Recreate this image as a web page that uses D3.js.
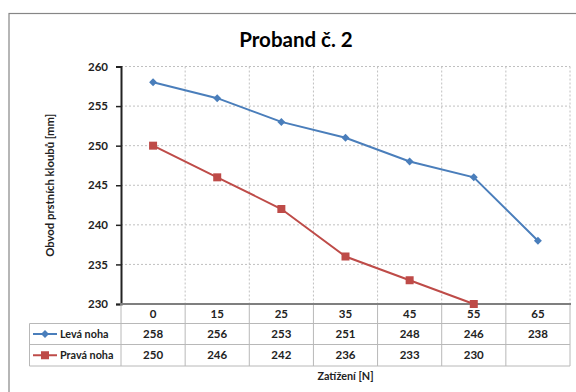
<!DOCTYPE html>
<html>
<head>
<meta charset="utf-8">
<script src="https://cdn.jsdelivr.net/npm/d3@7"></script>
<style>
  body { margin: 0; background: #fff; }
  svg { display: block; font-family: Lato, "Open Sans", sans-serif; }
</style>
</head>
<body>
<div id="chart"></div>
<script>
const loads = ['0', '15', '25', '35', '45', '55', '65'];
const leftLeg = [258, 256, 253, 251, 248, 246, 238];
const rightLeg = [250, 246, 242, 236, 233, 230, null];
const seriesNames = ['Levá noha', 'Pravá noha'];
const yTicks = [230, 235, 240, 245, 250, 255, 260];

const series = [
    {name: seriesNames[0], values: leftLeg, color: '#4a7ebb', marker: 'diamond'},
    {name: seriesNames[1], values: rightLeg, color: '#be4b48', marker: 'square'}
];

const svg = d3.select('#chart').append('svg').attr('width', 576).attr('height', 392);

// outer chart frame
svg.append('rect')
    .attr('x', 9).attr('y', 13.5)
    .attr('width', 600).attr('height', 400)
    .attr('fill', '#fff')
    .attr('stroke', '#868686')
    .attr('stroke-width', 1.2);

const plot = {left: 121, right: 570, top: 66.5, bottom: 304};

const x = d3.scaleBand().domain(loads).range([plot.left, plot.right]);
const y = d3.scaleLinear().domain([230, 260]).range([plot.bottom, plot.top]);

svg.append('text')
    .attr('x', 296).attr('y', 47)
    .attr('text-anchor', 'middle')
    .attr('font-size', 20.5).attr('font-weight', 'bold')
    .attr('fill', '#000')
    .text('Proband č. 2');

// horizontal gridlines
svg.append('g')
    .selectAll('line')
    .data(yTicks.filter(t => t > 230))
    .join('line')
    .attr('x1', plot.left).attr('x2', plot.right)
    .attr('y1', d => y(d)).attr('y2', d => y(d))
    .attr('stroke', '#c0c0c0').attr('stroke-dasharray', '2,2');

// vertical gridlines at category boundaries
svg.append('g')
    .selectAll('line')
    .data(loads)
    .join('line')
    .attr('x1', d => x(d) + x.bandwidth()).attr('x2', d => x(d) + x.bandwidth())
    .attr('y1', plot.top).attr('y2', plot.bottom)
    .attr('stroke', '#c0c0c0').attr('stroke-dasharray', '2,2');

// y axis
const yAxis = svg.append('g')
    .attr('transform', `translate(${plot.left},0)`)
    .call(d3.axisLeft(y).tickValues(yTicks).tickSize(5).tickPadding(8));
yAxis.select('.domain').attr('stroke', '#222').attr('stroke-width', 2);
yAxis.selectAll('.tick line').attr('stroke', '#222').attr('stroke-width', 1.5);
yAxis.selectAll('text')
    .attr('font-size', 11.5).attr('font-weight', 'bold')
    .attr('font-family', 'Lato, sans-serif').attr('fill', '#222');

svg.append('text')
    .attr('transform', `translate(54,${(plot.top + plot.bottom) / 2}) rotate(-90)`)
    .attr('text-anchor', 'middle')
    .attr('font-size', 11.3).attr('font-weight', 'bold')
    .attr('fill', '#222')
    .text('Obvod prstních kloubů [mm]');

// data table
const rowTop = plot.bottom, rowH = [19.5, 21, 21.5];
const rowY = [rowTop, rowTop + rowH[0], rowTop + rowH[0] + rowH[1], rowTop + rowH[0] + rowH[1] + rowH[2]];
const legendLeft = 29.5;
const tbl = svg.append('g').attr('stroke', '#b8b8b8').attr('stroke-width', 1);

// horizontal table lines
tbl.append('line').attr('x1', legendLeft).attr('x2', plot.right).attr('y1', rowY[1]).attr('y2', rowY[1]);
tbl.append('line').attr('x1', legendLeft).attr('x2', plot.right).attr('y1', rowY[2]).attr('y2', rowY[2]);
tbl.append('line').attr('x1', legendLeft).attr('x2', plot.right).attr('y1', rowY[3]).attr('y2', rowY[3]);
// vertical table lines
tbl.append('line').attr('x1', legendLeft).attr('x2', legendLeft).attr('y1', rowY[1]).attr('y2', rowY[3]);
tbl.append('line').attr('x1', plot.left).attr('x2', plot.left).attr('y1', rowY[0]).attr('y2', rowY[3]);
tbl.selectAll('.col')
    .data(loads)
    .join('line')
    .attr('class', 'col')
    .attr('x1', d => x(d) + x.bandwidth()).attr('x2', d => x(d) + x.bandwidth())
    .attr('y1', rowY[0]).attr('y2', rowY[3]);

// category header labels
svg.append('g')
    .selectAll('text')
    .data(loads)
    .join('text')
    .attr('x', d => x(d) + x.bandwidth() / 2)
    .attr('y', rowY[0] + rowH[0] / 2 + 4)
    .attr('text-anchor', 'middle')
    .attr('font-size', 11.5).attr('font-weight', 'bold').attr('fill', '#222')
    .text(d => d);

// series value rows
series.forEach((s, i) => {
    const cy = rowY[i + 1] + rowH[i + 1] / 2;
    svg.append('g')
        .selectAll('text')
        .data(s.values.map((v, j) => ({v, c: loads[j]})).filter(d => d.v != null))
        .join('text')
        .attr('x', d => x(d.c) + x.bandwidth() / 2)
        .attr('y', cy + 4)
        .attr('text-anchor', 'middle')
        .attr('font-size', 11.5).attr('font-weight', 'bold').attr('fill', '#222')
        .text(d => d.v);

    // legend key
    svg.append('line')
        .attr('x1', 33).attr('x2', 57).attr('y1', cy).attr('y2', cy)
        .attr('stroke', s.color).attr('stroke-width', 2);
    drawMarker(svg, s, 45, cy);
    svg.append('text')
        .attr('x', 60).attr('y', cy + 4)
        .attr('font-size', 10.8).attr('font-weight', 'bold').attr('fill', '#222')
        .text(s.name);
});

// bottom axis line
svg.append('line')
    .attr('x1', plot.left - 1).attr('x2', plot.right + 1)
    .attr('y1', plot.bottom).attr('y2', plot.bottom)
    .attr('stroke', '#7f7f7f').attr('stroke-width', 2);

svg.append('text')
    .attr('x', (plot.left + plot.right) / 2).attr('y', 380)
    .attr('text-anchor', 'middle')
    .attr('font-size', 10.8).attr('font-weight', 'bold').attr('fill', '#222')
    .text('Zatížení [N]');

// lines and markers
const line = d3.line()
    .defined(d => d.v != null)
    .x(d => x(d.c) + x.bandwidth() / 2)
    .y(d => y(d.v));

series.forEach(s => {
    const pts = s.values.map((v, j) => ({v, c: loads[j]}));
    svg.append('path')
        .datum(pts)
        .attr('fill', 'none')
        .attr('stroke', s.color)
        .attr('stroke-width', 2)
        .attr('d', line);
    pts.filter(d => d.v != null).forEach(d => {
        drawMarker(svg, s, x(d.c) + x.bandwidth() / 2, y(d.v));
    });
});

function drawMarker(g, s, cx, cy) {
    if (s.marker === 'square') {
        g.append('rect')
            .attr('x', cx - 4).attr('y', cy - 4)
            .attr('width', 8).attr('height', 8)
            .attr('fill', s.color);
    } else {
        g.append('path')
            .attr('d', d3.symbol(d3.symbolDiamond2, 40)())
            .attr('transform', `translate(${cx},${cy})`)
            .attr('fill', s.color);
    }
}
</script>
</body>
</html>
